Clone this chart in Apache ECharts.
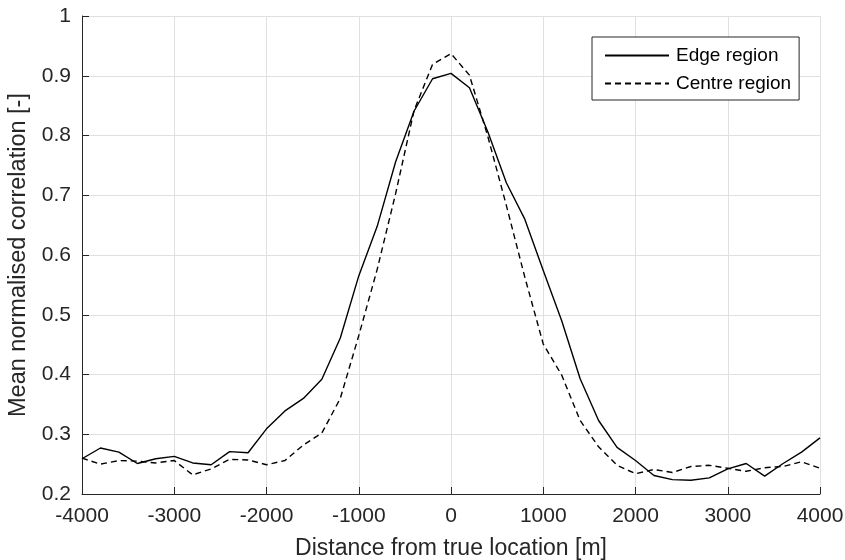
<!DOCTYPE html>
<html>
<head>
<meta charset="utf-8">
<script src="https://cdn.jsdelivr.net/npm/echarts@6/dist/echarts.min.js"></script>
<style>
  html, body { margin: 0; padding: 0; background: #fff; }
  #chart { width: 845px; height: 560px; }
</style>
</head>
<body>
<div id="chart"></div>
<script>
// distance from true location, every 200 m
var distances = [-4000, -3800, -3600, -3400, -3200, -3000, -2800, -2600, -2400, -2200,
  -2000, -1800, -1600, -1400, -1200, -1000, -800, -600, -400, -200,
  0, 200, 400, 600, 800, 1000, 1200, 1400, 1600, 1800,
  2000, 2200, 2400, 2600, 2800, 3000, 3200, 3400, 3600, 3800, 4000];

// Edge region (solid)
var edgeValues = [0.259, 0.277, 0.270, 0.251, 0.259, 0.263, 0.252, 0.249, 0.271, 0.269,
  0.309, 0.339, 0.360, 0.392, 0.461, 0.565, 0.648, 0.756, 0.841, 0.895,
  0.904, 0.880, 0.806, 0.721, 0.660, 0.574, 0.490, 0.393, 0.323, 0.278,
  0.256, 0.231, 0.224, 0.223, 0.227, 0.242, 0.251, 0.230, 0.251, 0.270, 0.294];

// Centre region (dashed)
var centreValues = [0.260, 0.250, 0.256, 0.255, 0.252, 0.256, 0.232, 0.242, 0.258, 0.257,
  0.249, 0.256, 0.282, 0.302, 0.360, 0.465, 0.576, 0.703, 0.842, 0.919,
  0.937, 0.901, 0.798, 0.683, 0.563, 0.451, 0.399, 0.323, 0.279, 0.248,
  0.234, 0.241, 0.236, 0.246, 0.248, 0.243, 0.238, 0.244, 0.246, 0.254, 0.243];

var seriesNames = ['Edge region', 'Centre region'];

function pairs(xs, ys) {
    var out = [];
    for (var i = 0; i < xs.length; i++) {
        out.push([xs[i], ys[i]]);
    }
    return out;
}

var axisColor = '#262626';
var gridColor = '#e0e0e0';
var fontFamily = 'Liberation Sans, Arial, Helvetica, sans-serif';

var myChart = echarts.init(document.getElementById('chart'));

var option = {
    backgroundColor: '#fff',
    animation: false,
    textStyle: { fontFamily: fontFamily },
    grid: { left: 82, right: 25, top: 16, bottom: 66, containLabel: false, outerBoundsMode: 'none' },
    legend: {
        data: seriesNames,
        orient: 'vertical',
        left: 592,
        top: 37,
        width: 206,
        padding: [9, 8, 7, 12],
        itemWidth: 64,
        itemHeight: 19,
        itemGap: 9,
        backgroundColor: '#fff',
        borderColor: axisColor,
        borderWidth: 1,
        itemStyle: { opacity: 0 },
        textStyle: { color: '#000', fontSize: 19, fontFamily: fontFamily, padding: [0, 0, 0, 2] }
    },
    xAxis: {
        type: 'value',
        min: -4000,
        max: 4000,
        interval: 1000,
        name: 'Distance from true location [m]',
        nameLocation: 'middle',
        nameGap: 43,
        nameTextStyle: { color: axisColor, fontSize: 23 },
        axisLine: { show: true, onZero: false, lineStyle: { color: axisColor, width: 1 } },
        axisTick: { show: true, inside: true, length: 7, lineStyle: { color: axisColor } },
        axisLabel: {
            color: axisColor,
            fontSize: 21,
            margin: 12,
            formatter: function (v) { return String(v); }
        },
        splitLine: { show: true, lineStyle: { color: gridColor, width: 1 } }
    },
    yAxis: {
        type: 'value',
        min: 0.2,
        max: 1,
        interval: 0.1,
        name: 'Mean normalised correlation [-]',
        nameLocation: 'middle',
        nameGap: 49,
        nameTextStyle: { color: axisColor, fontSize: 23.5 },
        axisLine: { show: true, onZero: false, lineStyle: { color: axisColor, width: 1 } },
        axisTick: { show: true, inside: true, length: 7, lineStyle: { color: axisColor } },
        axisLabel: {
            color: axisColor,
            fontSize: 21,
            margin: 11,
            formatter: function (v) { return String(Math.round(v * 10) / 10); }
        },
        splitLine: { show: true, lineStyle: { color: gridColor, width: 1 } }
    },
    series: [
        {
            name: seriesNames[0],
            type: 'line',
            data: pairs(distances, edgeValues),
            symbol: 'none',
            lineStyle: { color: '#000', width: 1.4, type: 'solid' },
            itemStyle: { color: '#000' }
        },
        {
            name: seriesNames[1],
            type: 'line',
            data: pairs(distances, centreValues),
            symbol: 'none',
            lineStyle: { color: '#000', width: 1.4, type: [6, 4] },
            itemStyle: { color: '#000' }
        }
    ]
};

myChart.setOption(option);
</script>
</body>
</html>
